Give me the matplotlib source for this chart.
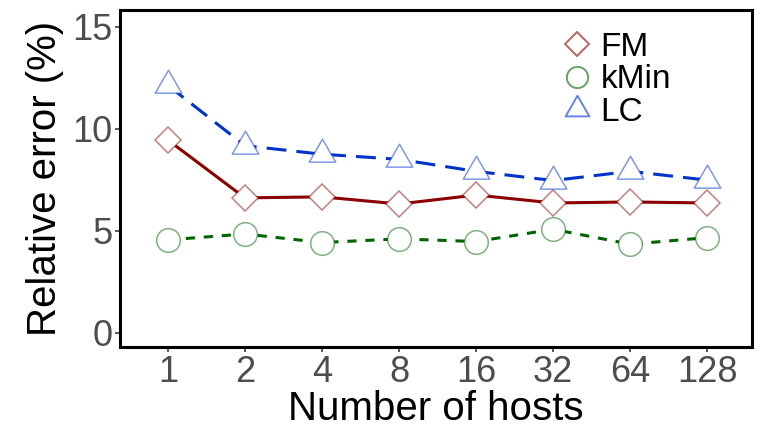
import matplotlib
matplotlib.use("Agg")
import matplotlib.pyplot as plt
from matplotlib.path import Path
from matplotlib.lines import Line2D
from matplotlib.colors import to_rgba

# --- dados ---
hosts = ["1", "2", "4", "8", "16", "32", "64", "128"]
fm = [9.46, 6.62, 6.67, 6.32, 6.76, 6.37, 6.42, 6.37]
kmin = [4.56, 4.85, 4.43, 4.61, 4.48, 5.08, 4.35, 4.67]
lc = [12.14, 9.18, 8.76, 8.51, 7.92, 7.47, 7.92, 7.49]

plt.rcParams['font.family'] = ['Liberation Sans', 'DejaVu Sans']

# triângulo no estilo do R (ponto no centro do triângulo)
tri = Path([(0, 1), (-0.866, -0.5), (0.866, -0.5), (0, 1)],
           [Path.MOVETO, Path.LINETO, Path.LINETO, Path.CLOSEPOLY])

series = [
    ("FM", fm, '#8B0000', 'D', 13.5, '-'),
    ("kMin", kmin, '#006400', 'o', 17, (0, (3.0, 2.9))),
    ("LC", lc, '#0033CC', tri, 22, (0, (6.5, 3.3))),
]

fig = plt.figure(figsize=(7.66, 4.28), dpi=100)
ax = fig.add_axes([0.1567, 0.1893, 0.825, 0.7873])

x = list(range(len(hosts)))
handles = []
for nome, vals, cor, mk, ms, ls in series:
    ax.plot(x, vals, color=cor, linestyle=ls, linewidth=2.2, zorder=2)
    ax.plot(x, vals, linestyle='none', marker=mk, markersize=ms,
            markerfacecolor='white', markeredgecolor=to_rgba(cor, 0.5),
            markeredgewidth=1.1, zorder=3)
    handles.append(Line2D([], [], linestyle='none', marker=mk,
                          markersize=ms * 0.9, markerfacecolor='white',
                          markeredgecolor=to_rgba(cor, 0.6),
                          markeredgewidth=1.4, label=nome))

ax.set_xlim(-0.62, 7.58)
ax.set_ylim(-0.69, 15.83)
ax.set_xticks(x)
ax.set_xticklabels(hosts)
ax.set_yticks([0, 5, 10, 15])

for s in ax.spines.values():
    s.set_linewidth(2.2)
    s.set_color('black')

ax.tick_params(axis='both', colors='#4D4D4D', labelsize=26, length=3.5,
               width=1.3, pad=2)
ax.set_xlabel("Number of hosts", fontsize=29, color='black', labelpad=0)
ax.set_ylabel("Relative error (%)", fontsize=29, color='black', labelpad=6)

ax.legend(handles=handles, loc='upper left', bbox_to_anchor=(0.668, 1.0),
          frameon=False, fontsize=24, handlelength=0.8, handletextpad=0.3,
          labelspacing=0.05, borderaxespad=0.25)

fig.savefig("out.png", dpi=100)
